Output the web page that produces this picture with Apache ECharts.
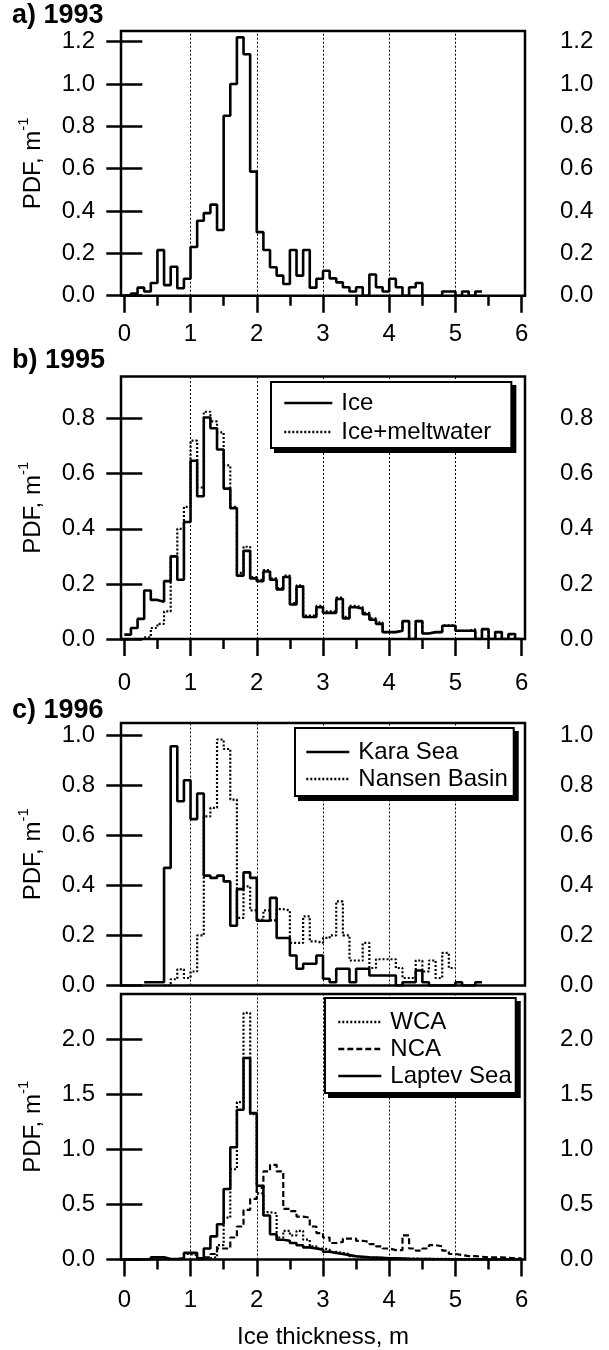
<!DOCTYPE html>
<html><head><meta charset="utf-8">
<script src="https://cdn.jsdelivr.net/npm/echarts@6/dist/echarts.min.js"></script>
<style>html,body{margin:0;padding:0;background:#fff}#c{width:609px;height:1350px}</style>
</head><body><div id="c"></div><script>
// ---------- data ----------
const binEdges = [0.0,0.1,0.2,0.3,0.4,0.5,0.6,0.7,0.8,0.9,1.0,1.1,1.2,1.3,1.4,1.5,1.6,1.7,1.8,1.9,
  2.0,2.1,2.2,2.3,2.4,2.5,2.6,2.7,2.8,2.9,3.0,3.1,3.2,3.3,3.4,3.5,3.6,3.7,3.8,3.9,
  4.0,4.1,4.2,4.3,4.4,4.5,4.6,4.7,4.8,4.9,5.0,5.1,5.2,5.3,5.4,5.5,5.6,5.7,5.8,5.9,6.0];
const xMajorTicks = [0,1,2,3,4,5,6];
const xMinorTicks = [0.5,1.5,2.5,3.5,4.5,5.5];
const gridLinesX = [1,2,3,4,5];
const yTicksA = [0,0.2,0.4,0.6,0.8,1.0,1.2];
const yTicksB = [0,0.2,0.4,0.6,0.8];
const yTicksC1 = [0,0.2,0.4,0.6,0.8,1.0];
const yTicksC2 = [0,0.5,1.0,1.5,2.0];

const ice1993 = [0,0.01,0.038,0.02,0.06,0.215,0.05,0.137,0.035,0.08,
  0.23,0.354,0.39,0.43,0.31,0.85,1.0,1.22,1.14,0.586,
  0.30,0.216,0.134,0.095,0.055,0.216,0.095,0.216,0.038,0.08,
  0.118,0.082,0.063,0.04,0.02,0.04,0,0.1,0.04,0.02,
  0.08,0.04,0,0.04,0.06,0,0,0,0.02,0.02,
  0,0.02,0,0.02,null,null,null,null,null,null];

const ice1995 = [0.016,0.04,0.073,0.176,0.142,0.135,0.21,0.30,0.215,0.425,
  0.647,0.518,0.804,0.765,0.688,0.546,0.475,0.23,0.32,0.22,
  0.21,0.245,0.215,0.18,0.225,0.125,0.19,0.08,0.08,0.115,
  0.095,0.095,0.145,0.075,0.115,0.11,0.09,0.07,0.055,0.025,
  0.025,0.03,0.065,0.0,0.065,0.02,0.025,0.025,0.048,0.048,
  0.03,0.03,0.03,0.0,0.036,0.0,0.025,0.0,0.018,0.0];
const iceMelt1995 = [null,null,null,0.006,0.04,0.055,0.10,0.30,0.40,0.48,
  0.72,0.55,0.825,0.79,0.75,0.63,0.48,0.24,0.335,0.225,
  0.215,0.25,0.22,0.185,0.23,0.13,0.195,0.085,0.085,0.12,
  0.10,0.10,0.15,0.08,0.12,0.115,0.095,0.075,0.06,0.025,
  0.025,0.03,0.065,0.0,0.065,0.02,0.025,0.025,0.05,0.05,
  0.03,0.03,0.035,0.0,0.036,0.0,0.025,0.0,0.018,0.0];

const kara1996 = [null,null,null,0.013,0.013,0.013,0.47,0.956,0.736,0.82,
  0.665,0.767,0.439,0.43,0.439,0.416,0.239,0.385,0.452,0.43,
  0.259,0.259,0.35,0.19,0.19,0.12,0.067,0.087,0.087,0.12,
  0.027,0.013,0.067,0.067,0.013,0.067,0.067,0.04,0.04,0.04,
  0.04,0.0,0.013,0.013,0.06,0.013,0.0,0.0,0.0,0.0,
  0.013,0.0,0.0,0.013,null,null,null,null,null,null];
const nansen1996 = [null,null,null,null,null,null,0,0.025,0.065,0.03,
  0.056,0.2,0.676,0.71,0.983,0.945,0.743,0.27,0.396,0.30,
  0.263,0.30,0.26,0.305,0.30,0.17,0.17,0.276,0.176,0.17,
  0.19,0.2,0.336,0.2,0.1,0.1,0.17,0.07,0.105,0.105,
  0.105,0.07,0.03,0.03,0.1,0.056,0.1,0.03,0.13,0.07,
  null,null,null,null,null,null,null,null,null,null];

const wca1996 = [0,0,0,0,0,0,0,0,0,0.05,
  0.04,0,0.01,0.02,0.13,0.38,0.82,1.43,2.24,1.32,
  0.6,0.43,0.42,0.2,0.26,0.22,0.26,0.18,0.12,0.1,
  0.09,0.07,0.06,0.05,0.03,0.02,0.02,0.015,0.015,0.01,
  0.01,0.01,0.008,0.008,0.006,0.006,0.005,0.005,0.005,0.004,
  0.004,0.003,0.003,0.003,0.002,0.002,0.002,0.002,0.002,0.002];
const nca1996 = [null,null,null,null,null,null,null,null,null,null,
  null,0,0.02,0.05,0.1,0.1,0.2,0.3,0.45,0.55,
  0.65,0.8,0.86,0.8,0.46,0.44,0.39,0.38,0.3,0.24,
  0.2,0.15,0.16,0.19,0.19,0.17,0.16,0.14,0.12,0.1,
  0.085,0.085,0.22,0.1,0.08,0.1,0.13,0.12,0.08,0.05,
  0.04,0.03,0.03,0.025,0.02,0.02,0.02,0.015,0.01,0.01];
const laptev1996 = [0,0,0,0,0.02,0.02,0.005,0.005,0.01,0.06,
  0.06,0.01,0.1,0.21,0.32,0.64,1.02,1.36,1.83,1.33,
  0.67,0.4,0.23,0.18,0.17,0.15,0.13,0.11,0.1,0.09,
  0.07,0.06,0.05,0.04,0.03,0.025,0.02,0.018,0.015,0.012,
  0.01,0.008,0.006,0.005,0.004,0.003,0.002,0.002,0.001,0.001,
  0,0,0,0,0,0,0,0,0,0];

// ---------- helpers ----------
const FONT = '"Liberation Sans", Arial, Helvetica, sans-serif';
function steps(vals){
  const out = [];
  for (let j = 0; j < vals.length; j++){
    const v = vals[j];
    if (v === null){ out.push([binEdges[j], null]); continue; }
    out.push([binEdges[j], v]);
    if (j === vals.length - 1 || vals[j+1] === null) out.push([binEdges[j+1], v]);
  }
  return out;
}
const STY = {
  solid: {type:'solid', width:2.6},
  dotted: {type:[2,2], width:2.2},
  dashed: {type:[6,3], width:2.2}
};

const panels = [
  {title:'a) 1993', titleTop:2, top:31, bottom:295.7, ymax:1.25, yTicks:yTicksA, xTicks:true, xLabels:true, labelMargin:27,
   series:[{name:'1993', data:ice1993, s:'solid'}], legend:null},
  {title:'b) 1995', titleTop:347, top:376.5, bottom:639, ymax:0.953, yTicks:yTicksB, xTicks:true, xLabels:true, labelMargin:32,
   series:[{name:'Ice', data:ice1995, s:'solid'},{name:'Ice+meltwater', data:iceMelt1995, s:'dotted'}],
   legend:{left:271, top:382, padding:[8,20,3,12], itemGap:3, itemWidth:48}},
  {title:'c) 1996', titleTop:697, top:723, bottom:985.5, ymax:1.049, yTicks:yTicksC1, xTicks:false, xLabels:false, labelMargin:28,
   series:[{name:'Kara Sea', data:kara1996, s:'solid'},{name:'Nansen Basin', data:nansen1996, s:'dotted'}],
   legend:{left:295, top:728, padding:[11,6,4,10], itemGap:1, itemWidth:43}},
  {title:null, top:994, bottom:1259.5, ymax:2.412, yTicks:yTicksC2, xTicks:true, xLabels:true, labelMargin:29,
   series:[{name:'WCA', data:wca1996, s:'dotted'},{name:'NCA', data:nca1996, s:'dashed'},{name:'Laptev Sea', data:laptev1996, s:'solid'}],
   legend:{left:325, top:998, padding:[11,4,4,12], itemGap:1, itemWidth:43}, xName:'Ice thickness, m'}
];

const option = {animation:false, backgroundColor:'#fff', textStyle:{fontFamily:FONT},
  title:[], grid:[], xAxis:[], yAxis:[], series:[], legend:[]};

const tickStyle = {color:'#000', width:2.5};
const labelStyle = {fontSize:24, color:'#000', fontFamily:FONT};

panels.forEach((p, i) => {
  if (p.title) option.title.push({text:p.title, left:12, top:p.titleTop, padding:0,
    textStyle:{fontSize:27, fontWeight:'bold', color:'#000', fontFamily:FONT}});
  option.grid.push({left:121, right:84, top:p.top, height:p.bottom - p.top, show:true,
    borderColor:'#000', borderWidth:2.5, backgroundColor:'transparent', outerBoundsMode:'none', containLabel:false});
  const xBase = {type:'value', gridIndex:i, position:'bottom', min:-0.05, max:6.05,
    axisLine:{show:false}, splitLine:{show:false}};
  option.xAxis.push(Object.assign({}, xBase, {
    axisTick:{show:p.xTicks, customValues:xMajorTicks, length:17, inside:false, lineStyle:tickStyle},
    axisLabel:Object.assign({show:p.xLabels, customValues:xMajorTicks, margin:p.labelMargin}, labelStyle),
    name:p.xName || '', nameLocation:'middle', nameGap:66,
    nameTextStyle:{fontSize:24, color:'#000', fontFamily:FONT}
  }));
  option.xAxis.push(Object.assign({}, xBase, {
    axisTick:{show:p.xTicks, customValues:xMinorTicks, length:10, inside:false, lineStyle:tickStyle},
    axisLabel:{show:false}
  }));
  const yBase = {type:'value', gridIndex:i, min:0, max:p.ymax, axisLine:{show:false}, splitLine:{show:false}};
  option.yAxis.push(Object.assign({}, yBase, {position:'left',
    axisTick:{customValues:p.yTicks, length:18, inside:false, lineStyle:tickStyle},
    axisLabel:Object.assign({customValues:p.yTicks, margin:26, formatter:v=>v.toFixed(1)}, labelStyle),
    name:'PDF, m{s|-1}', nameLocation:'middle', nameRotate:90, nameGap:63,
    nameTextStyle:{fontSize:24, color:'#000', fontFamily:FONT, lineHeight:34,
      rich:{s:{fontSize:15, color:'#000', fontFamily:FONT, verticalAlign:'top', lineHeight:16}}}
  }));
  option.yAxis.push(Object.assign({}, yBase, {position:'right',
    axisTick:{customValues:p.yTicks, length:18, inside:false, lineStyle:tickStyle},
    axisLabel:Object.assign({customValues:p.yTicks, margin:35, formatter:v=>v.toFixed(1)}, labelStyle)
  }));
  p.series.forEach((s, k) => {
    const ser = {type:'line', name:s.name, xAxisIndex:2*i, yAxisIndex:2*i, step:'end',
      symbol:'none', showSymbol:false, connectNulls:false, data:steps(s.data),
      lineStyle:Object.assign({color:'#000'}, STY[s.s]), itemStyle:{color:'#000'}, z:3+k};
    if (k === 0) ser.markLine = {silent:true, symbol:['none','none'], label:{show:false},
      lineStyle:{color:'#000', width:1, type:[2,2]}, emphasis:{disabled:true},
      data:gridLinesX.map(v => ({xAxis:v}))};
    option.series.push(ser);
  });
  if (p.legend){
    const base = {data:p.series.map(s => s.name), orient:'vertical', itemHeight:1,
      selectedMode:false, borderWidth:2, borderRadius:0, itemGap:p.legend.itemGap,
      itemWidth:p.legend.itemWidth, padding:p.legend.padding,
      lineStyle:{width:2.6}};
    // offset copy = hard drop shadow
    option.legend.push(Object.assign({}, base, {left:p.legend.left + 4, top:p.legend.top + 4, z:8,
      backgroundColor:'#000', borderColor:'#000',
      textStyle:{fontSize:24, lineHeight:26, color:'rgba(0,0,0,0)', fontFamily:FONT, padding:[0,0,0,4]}}));
    option.legend.push(Object.assign({}, base, {left:p.legend.left, top:p.legend.top, z:9,
      backgroundColor:'#fff', borderColor:'#000',
      textStyle:{fontSize:24, lineHeight:26, color:'#000', fontFamily:FONT, padding:[0,0,0,4]}}));
  }
});

const chart = echarts.init(document.getElementById('c'), null, {renderer:'canvas'});
chart.setOption(option);
</script></body></html>
